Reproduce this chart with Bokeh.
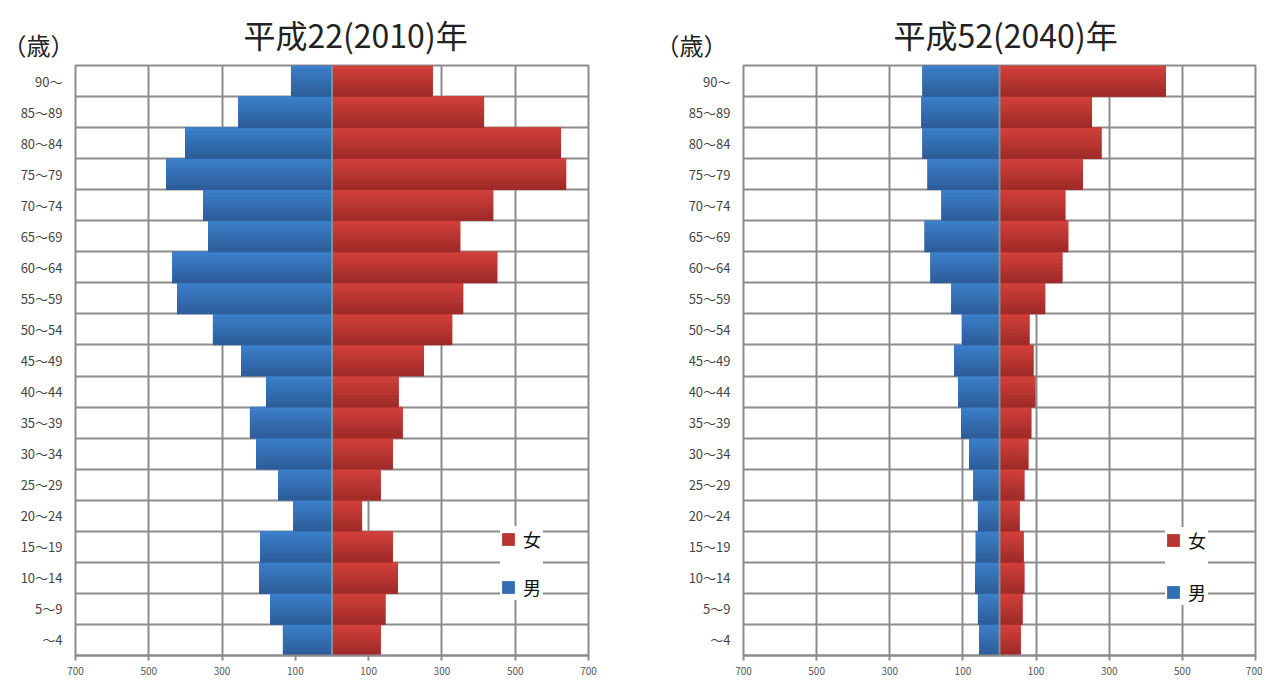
from bokeh.plotting import figure
from bokeh.models import FixedTicker, Span, Title, Legend, LegendItem
from bokeh.layouts import row
from bokeh.embed import file_html
from bokeh.resources import INLINE

# ---------------- data ----------------
ages = ["90〜", "85〜89", "80〜84", "75〜79", "70〜74", "65〜69", "60〜64",
        "55〜59", "50〜54", "45〜49", "40〜44", "35〜39", "30〜34", "25〜29",
        "20〜24", "15〜19", "10〜14", "5〜9", "〜4"]
male_2010 = [112, 256, 401, 453, 352, 338, 436, 423, 325, 248, 180, 224, 207,
             147, 106, 196, 199, 169, 134]
female_2010 = [275, 415, 625, 639, 440, 350, 451, 358, 328, 251, 182, 193, 166,
               133, 82, 166, 180, 146, 133]
male_2040 = [211, 214, 211, 197, 159, 205, 189, 132, 102, 124, 113, 105, 83,
             72, 59, 65, 67, 59, 56]
female_2040 = [455, 253, 279, 228, 180, 188, 172, 125, 82, 93, 98, 87, 79,
               68, 55, 66, 68, 63, 58]
x_ticks = [-700, -500, -300, -100, 100, 300, 500, 700]
x_tick_labels = ["700", "500", "300", "100", "100", "300", "500", "700"]
titles = ["平成22(2010)年", "平成52(2040)年"]
unit_label = "（歳）"
legend_labels = ["女", "男"]

FONT = "Noto Sans CJK JP"
GRID = "#8c8c8c"
BLUE_TOP, BLUE_BOT = (60, 128, 204), (44, 92, 152)
RED_TOP, RED_BOT = (212, 64, 60), (158, 42, 40)


def hexc(c):
    return "#%02x%02x%02x" % tuple(int(round(v)) for v in c)


def mix(a, b, t):
    return hexc([a[i] + (b[i] - a[i]) * t for i in range(3)])


def add_bars(p, vals, sign, top, bot, n=8):
    nrow = len(vals)
    ys = [nrow - 0.5 - i for i in range(nrow)]
    left = [0 if sign > 0 else -v for v in vals]
    right = [v if sign > 0 else 0 for v in vals]
    main = p.hbar(y=ys, left=left, right=right, height=1.0,
                  fill_color=mix(top, bot, 0.5), line_color=None)
    for k in range(n):
        t = (k + 0.5) / n
        off = 0.5 - t
        p.hbar(y=[y + off for y in ys], left=left, right=right,
               height=1.0 / n + 0.02, fill_color=mix(top, bot, t),
               line_color=None)
    return main


def make(title, male, female, width, bl, br, title_off, unit_off, legend_loc,
         legend_spacing):
    nrow = len(ages)
    p = figure(width=width, height=678, x_range=(-700, 700),
               y_range=(0, nrow), output_backend="svg", toolbar_location=None,
               min_border_left=bl, min_border_right=br, min_border_top=65,
               min_border_bottom=23)
    p.outline_line_color = GRID
    p.outline_line_width = 2
    p.background_fill_color = "white"

    p.xgrid.ticker = FixedTicker(ticks=x_ticks)
    p.ygrid.ticker = FixedTicker(ticks=list(range(nrow + 1)))
    for g in (p.xgrid, p.ygrid):
        g.grid_line_color = GRID
        g.grid_line_width = 2
        g.grid_line_alpha = 1

    xa = p.xaxis[0]
    xa.ticker = FixedTicker(ticks=x_ticks)
    xa.major_label_overrides = {t: l for t, l in zip(x_ticks, x_tick_labels)}
    xa.axis_line_color = GRID
    xa.axis_line_width = 2
    xa.major_tick_line_color = GRID
    xa.major_tick_line_width = 2
    xa.major_tick_in = 0
    xa.major_tick_out = 5
    xa.minor_tick_line_color = None
    xa.major_label_standoff = 6
    xa.major_label_text_font = FONT
    xa.major_label_text_font_size = "10px"
    xa.major_label_text_color = "#555555"

    ya = p.yaxis[0]
    centers = [nrow - 0.5 - i for i in range(nrow)]
    ya.ticker = FixedTicker(ticks=centers)
    ya.major_label_overrides = {c: a for c, a in zip(centers, ages)}
    ya.axis_line_color = None
    ya.major_tick_line_color = None
    ya.minor_tick_line_color = None
    ya.major_label_standoff = 7
    ya.major_label_text_font = FONT
    ya.major_label_text_font_size = "13px"
    ya.major_label_text_color = "#444444"

    rm = add_bars(p, male, -1, BLUE_TOP, BLUE_BOT)
    rf = add_bars(p, female, 1, RED_TOP, RED_BOT)

    p.add_layout(Span(location=0, dimension="height", line_color=GRID,
                      line_width=2))

    # unit label (nearest the frame), then main title above it
    p.add_layout(Title(text=unit_label, align="left", offset=unit_off,
                       standoff=6.4, text_font=FONT, text_font_size="24px",
                       text_font_style="normal", text_color="#222222"),
                 "above")
    p.add_layout(Title(text=title, align="left", offset=title_off,
                       standoff=-68, text_font=FONT, text_font_size="32px",
                       text_font_style="normal", text_color="#222222"),
                 "above")

    leg = Legend(items=[LegendItem(label=legend_labels[0], renderers=[rf]),
                        LegendItem(label=legend_labels[1], renderers=[rm])],
                 location=legend_loc)
    leg.background_fill_color = "white"
    leg.background_fill_alpha = 1
    leg.border_line_color = None
    leg.glyph_width = 16
    leg.glyph_height = 16
    leg.label_height = 20
    leg.label_standoff = 7
    leg.spacing = legend_spacing
    leg.padding = 14
    leg.margin = 0
    leg.label_text_font = FONT
    leg.label_text_font_size = "18px"
    leg.label_text_color = "#111111"
    p.add_layout(leg)
    return p


p1 = make(titles[0], male_2010, female_2010, 638, 75, 50, 168, -73,
          (425, 55), 22)
p2 = make(titles[1], male_2040, female_2040, 624, 105, 7, 150, -88,
          (422, 50), 26)

layout = row(p1, p2)
open("out.html", "w").write(file_html(layout, INLINE))
